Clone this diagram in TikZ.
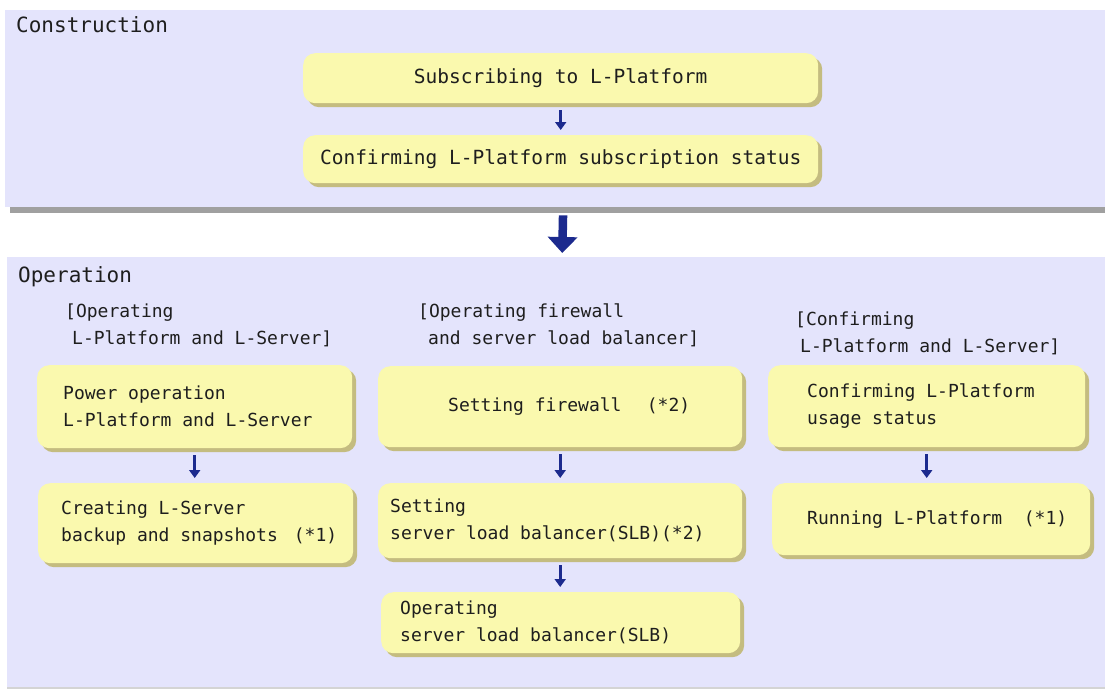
\documentclass[tikz,border=0pt]{standalone}
\usepackage{fontspec}
\setmonofont{DejaVu Sans Mono}
\usepackage{xcolor}
\usetikzlibrary{arrows.meta,shadows,positioning}
\definecolor{panelfill}{HTML}{E4E4FC}
\definecolor{boxfill}{HTML}{FAF9AE}
\definecolor{boxshade}{HTML}{C4BC80}
\definecolor{arrowblue}{HTML}{1C2A8E}
\definecolor{rulegray}{HTML}{A0A0A0}
\definecolor{inkgray}{HTML}{1E1E1E}
\newcommand*{\boxFont}{\ttfamily\fontsize{18}{27}\selectfont}
\newcommand*{\bigBoxFont}{\ttfamily\fontsize{19.5}{27}\selectfont}
\newcommand*{\titleFont}{\ttfamily\fontsize{21}{26}\selectfont}
\newcommand*{\monoSpaces}{\spaceskip=\fontdimen2\font\xspaceskip=\fontdimen2\font\relax}

\tikzset{
  panel/.style={fill=panelfill, anchor=north west, inner sep=0pt},
  stepbox/.style={fill=boxfill, rounded corners=12pt, anchor=north west,
    align=left, text=inkgray, font=\boxFont, execute at begin node=\monoSpaces,
    drop shadow={shadow xshift=4pt, shadow yshift=-4pt, fill=boxshade, opacity=1}},
  grouplabel/.style={anchor=west, align=left, inner sep=0pt, text=inkgray, font=\boxFont},
  phaselabel/.style={anchor=west, inner sep=0pt, text=inkgray, font=\titleFont},
  flow/.style={arrowblue, line width=2.6pt, -{Triangle[width=11pt,length=8pt]},
    shorten <=7pt, shorten >=5pt},
  bigflow/.style={arrowblue, line width=8.5pt, -{Triangle[width=29pt,length=16pt]},
    shorten <=8pt, shorten >=4pt}
}

\begin{document}
\begin{tikzpicture}[x=1pt, y=-1pt]
    \useasboundingbox (0,0) rectangle (1105,689);

    \node [panel, minimum width=1100pt, minimum height=197pt] (constr) at (5,10) {};
    \fill [rulegray] (10,207) rectangle (1105,213);
    \node [panel, minimum width=1098pt, minimum height=430pt] (oper) at (7,257) {};
    \fill [rulegray!45] (7,687) rectangle (1105,689);

    \node [phaselabel] (constrlabel) at (16,25) {Construction};
    \node [phaselabel] (operlabel) at (18,277) {Operation};

    \node [stepbox, align=center, font=\bigBoxFont, minimum width=515pt, minimum height=50pt]
      (subscribe) at (303,53) {Subscribing to L-Platform};
    \node [stepbox, align=center, font=\bigBoxFont, minimum width=515pt, minimum height=48pt]
      (substatus) at (303,135) {Confirming L-Platform subscription status};

    \node [grouplabel] (grpleft) at (65,325)
      {[Operating\\\hspace*{7pt}L-Platform and L-Server]};
    \node [grouplabel] (grpmid) at (418,325)
      {[Operating firewall\\\hspace*{10pt}and server load balancer]};
    \node [grouplabel] (grpright) at (795,333)
      {[Confirming\\\hspace*{5pt}L-Platform and L-Server]};

    \node [stepbox, minimum width=315pt, minimum height=83pt, inner xsep=26pt, text width=263pt]
      (power) at (37,365) {Power operation\\L-Platform and L-Server};
    \node [stepbox, minimum width=315pt, minimum height=80pt, inner xsep=23pt, text width=269pt]
      (backup) at (38,483) {Creating L-Server\\backup and snapshots\hfill(*1)\hspace*{-7pt}};

    \node [stepbox, minimum width=364pt, minimum height=81pt, inner xsep=70pt, text width=224pt]
      (firewall) at (378,366) {Setting firewall\hfill(*2)\hspace*{-18pt}};
    \node [stepbox, minimum width=364pt, minimum height=75pt, inner xsep=12pt, text width=340pt]
      (setslb) at (378,483) {Setting\\server load balancer(SLB)(*2)};
    \node [stepbox, minimum width=359pt, minimum height=61pt, inner xsep=19pt, text width=321pt]
      (opslb) at (381,592) {Operating\\server load balancer(SLB)};

    \node [stepbox, minimum width=317pt, minimum height=82pt, inner xsep=39pt, text width=239pt]
      (usage) at (768,365) {Confirming L-Platform\\usage status};
    \node [stepbox, minimum width=318pt, minimum height=72pt, inner xsep=35pt, text width=248pt]
      (running) at (772,483) {Running L-Platform\hfill(*1)\hspace*{-12pt}};

    \draw [flow] (subscribe) -- (substatus);
    \draw [bigflow] ([xshift=8pt]constr.south) -- ([xshift=6pt]oper.north);
    \draw [flow] (power) -- (power |- backup.north);
    \draw [flow] (firewall) -- (setslb);
    \draw [flow] (setslb) -- (setslb |- opslb.north);
    \draw [flow] (usage) -- (usage |- running.north);
  \end{tikzpicture}
\end{document}
